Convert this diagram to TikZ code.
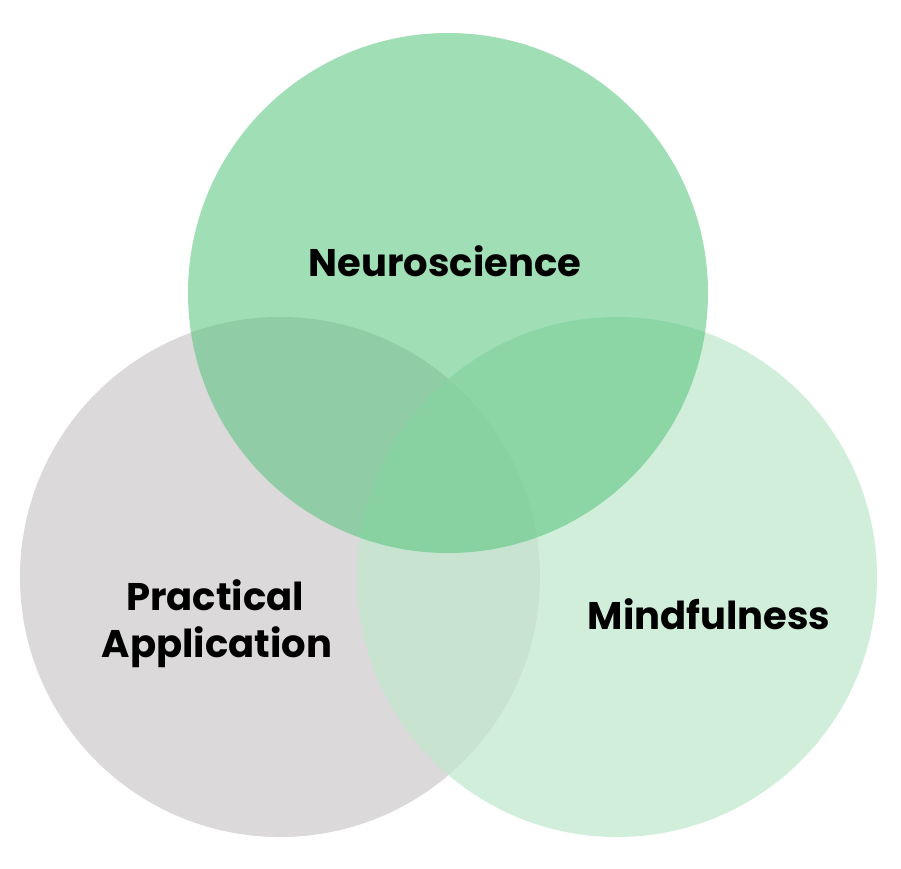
\documentclass[tikz,border=0pt]{standalone}
\usepackage{fontspec}
\setmainfont{Poppins}
\definecolor{graycirc}{RGB}{219,217,218}
\definecolor{rightcirc}{RGB}{193,233,207}
\definecolor{topcirc}{RGB}{88,197,127}
\tikzset{
  lbl/.style={font=\bfseries\fontsize{38.5}{44}\selectfont, text=black, anchor=base, inner sep=0pt}
}
\begin{document}
\begin{tikzpicture}[x=1pt,y=-1pt]
\useasboundingbox (0,0) rectangle (901,868);
\fill[white] (0,0) rectangle (901,868);
\fill[graycirc] (280,577) circle[radius=260];
\fill[rightcirc, fill opacity=0.73] (617,577) circle[radius=260];
\fill[topcirc, fill opacity=0.57] (448,293) circle[radius=260];
\node[lbl] (neuro) at (445,276) {Neuroscience};
\node[lbl] (mind) at (709,629) {Mindfulness};
\node[lbl] (prac) at (215,610) {Practical};
\node[lbl] (appl) at (217,657) {Application};
\end{tikzpicture}
\end{document}
